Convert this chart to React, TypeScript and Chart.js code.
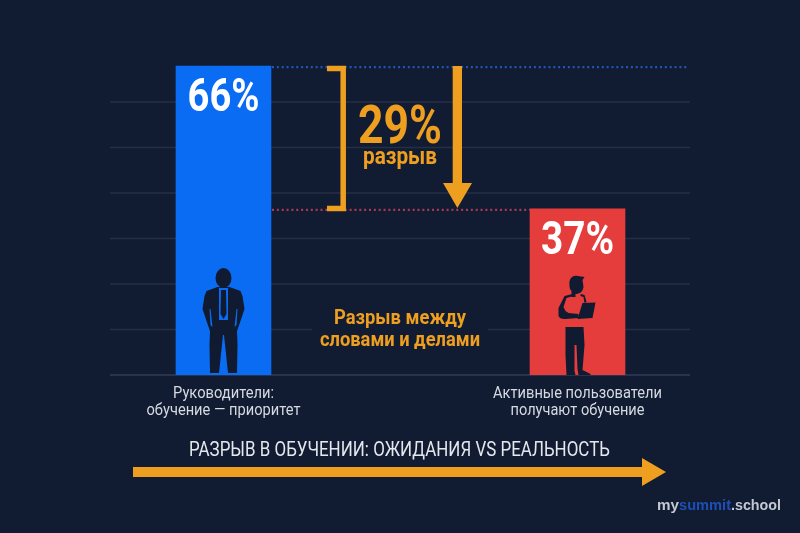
import React, { useEffect, useRef } from "react";
import { Chart, registerables } from "chart.js";

Chart.register(...registerables);

const categories = [
  ["Руководители:", "обучение — приоритет"],
  ["Активные пользователи", "получают обучение"],
];
// Bar heights as read against the gridlines of the picture (one gridline = 10 units).
// The picture's bars are not exactly to scale with their printed labels.
const barHeights = [67.9, 36.5];
const barLabels = ["66%", "37%"];
const barColors = ["#0a6cf2", "#e53c3c"];
const gridTicks = [0, 10, 20, 30, 40, 50, 60];
const gapLabel = "29%";
const gapWord = "разрыв";
const noteLines = ["Разрыв между", "словами и делами"];
const footerTitle = "РАЗРЫВ В ОБУЧЕНИИ: ОЖИДАНИЯ VS РЕАЛЬНОСТЬ";
const logoParts = ["my", "summit", ".school"];

const BG = "#111c32";
const INK = "#101a30";
const AMBER = "#ee9f20";
const FONT = "Roboto, sans-serif";

function fitText(
  ctx: CanvasRenderingContext2D,
  text: string,
  cx: number,
  cy: number,
  font: string,
  width: number,
  color: string
) {
  ctx.save();
  ctx.font = font;
  ctx.fillStyle = color;
  ctx.textAlign = "center";
  ctx.textBaseline = "middle";
  const w = ctx.measureText(text).width;
  ctx.translate(cx, cy);
  ctx.scale(width / w, 1);
  ctx.fillText(text, 0, 0);
  ctx.restore();
}

function drawManager(ctx: CanvasRenderingContext2D, cx: number, base: number, bar: string) {
  ctx.save();
  ctx.translate(cx, base);
  ctx.fillStyle = INK;
  ctx.beginPath();
  ctx.ellipse(0, -97, 8, 10, 0, 0, Math.PI * 2);
  ctx.fill();
  ctx.fill(
    new Path2D(
      "M-6,-88 L6,-88 L17,-84 L19,-79 L21,-66 L17,-54 L13.5,-44 L14,-30 L13.5,-2 L4.5,-2 L0.5,-40 L-0.5,-40 L-4.5,-2 L-13.5,-2 L-14,-30 L-13.5,-44 L-17,-54 L-21,-66 L-19,-79 L-17,-84 Z"
    )
  );
  // shirt and arm gaps in the bar colour
  ctx.fillStyle = bar;
  ctx.fill(new Path2D("M-4.5,-87 L4.5,-87 L4.5,-55 L-4.5,-55 Z"));
  ctx.fill(new Path2D("M-14,-66 L-13,-66 L-11,-48 L-13,-50 Z"));
  ctx.fill(new Path2D("M14,-66 L13,-66 L11,-48 L13,-50 Z"));
  ctx.fillStyle = INK;
  ctx.fill(new Path2D("M-2.5,-85 L2.5,-85 L3,-61 L0,-56 L-3,-61 Z"));
  ctx.restore();
}

function drawUser(ctx: CanvasRenderingContext2D, cx: number, base: number, bar: string) {
  ctx.save();
  ctx.translate(cx, base);
  ctx.fillStyle = INK;
  // head and hair
  ctx.fill(
    new Path2D(
      "M-8,-90 C-9,-97 -4,-100 0,-99 L7,-98 L5,-95 L6,-88 C5,-83 2,-81 -2,-81 L-2,-78 L-6,-78 L-6,-84 C-8,-86 -8,-88 -8,-90 Z"
    )
  );
  // shoulder and arm outline around the shirt
  ctx.fill(
    new Path2D(
      "M-5,-81 L-13,-79 L-19,-67 L-19,-60 C-19,-57 -16,-56 -12,-56 L1,-57 L1,-61 L-9,-62 L-12,-64 L-14,-68 L-11,-77 L-4,-79 Z"
    )
  );
  ctx.fill(new Path2D("M3,-81 L7,-80 L9,-73 L7,-72 L6,-78 L3,-79 Z"));
  // tablet
  ctx.fill(new Path2D("M5,-72 L18,-72.5 L15,-57 L0,-56 Z"));
  // legs
  ctx.fill(
    new Path2D(
      "M-12,-48 L6,-48 L7,-30 L5,-5 L13,-1 L13,0 L1,0 L0,-6 L-1,-30 L-3,-30 L-3,-4 L-2,0 L-11,0 L-12,-20 Z"
    )
  );
  ctx.restore();
}

const overlay = {
  id: "overlay",
  beforeDatasetsDraw(chart: any) {
    const { ctx, scales } = chart;
    ctx.save();
    ctx.lineWidth = 1.3;
    gridTicks.forEach((t, i) => {
      const y = scales.y.getPixelForValue(t);
      ctx.strokeStyle = i === 0 ? "#303d59" : "#252f46";
      ctx.beginPath();
      ctx.moveTo(110, y);
      ctx.lineTo(690, y);
      ctx.stroke();
    });
    ctx.restore();
  },
  afterDatasetsDraw(chart: any) {
    const { ctx, scales } = chart;
    const meta = chart.getDatasetMeta(0).data;
    const x0 = meta[0].x;
    const x1 = meta[1].x;
    const base = scales.y.getPixelForValue(0);
    const top = scales.y.getPixelForValue(barHeights[0]);
    const low = scales.y.getPixelForValue(barHeights[1]);
    const right0 = x0 + meta[0].width / 2;
    const left1 = x1 - meta[1].width / 2;

    ctx.save();
    ctx.lineWidth = 2.2;
    ctx.setLineDash([2, 2.85]);
    ctx.strokeStyle = "#1f57b4";
    ctx.beginPath();
    ctx.moveTo(right0 + 1, top + 1);
    ctx.lineTo(688, top + 1);
    ctx.stroke();
    ctx.strokeStyle = "#a93a52";
    ctx.beginPath();
    ctx.moveTo(right0 + 1, low + 1);
    ctx.lineTo(left1, low + 1);
    ctx.stroke();
    ctx.setLineDash([]);

    // bracket
    ctx.strokeStyle = AMBER;
    ctx.lineWidth = 5.5;
    ctx.lineJoin = "miter";
    ctx.beginPath();
    ctx.moveTo(327, top + 2.5);
    ctx.lineTo(343.2, top + 2.5);
    ctx.lineTo(343.2, low - 0.5);
    ctx.lineTo(327, low - 0.5);
    ctx.stroke();

    // down arrow
    ctx.fillStyle = AMBER;
    ctx.beginPath();
    ctx.moveTo(452.7, top);
    ctx.lineTo(462, top);
    ctx.lineTo(462, low - 26);
    ctx.lineTo(472, low - 26);
    ctx.lineTo(457.4, low - 1);
    ctx.lineTo(443, low - 26);
    ctx.lineTo(452.7, low - 26);
    ctx.closePath();
    ctx.fill();

    // long arrow
    ctx.beginPath();
    ctx.moveTo(133, 467);
    ctx.lineTo(642, 467);
    ctx.lineTo(642, 458);
    ctx.lineTo(666, 472);
    ctx.lineTo(642, 486);
    ctx.lineTo(642, 477);
    ctx.lineTo(133, 477);
    ctx.closePath();
    ctx.fill();

    // gap in the gridline behind the note
    ctx.fillStyle = BG;
    ctx.fillRect(312, 322, 176, 16);

    drawManager(ctx, x0, base, barColors[0]);
    drawUser(ctx, x1, base, barColors[1]);

    const cats = chart.data.labels;
    const lw = [[101, 154], [169, 134]];
    cats.forEach((lines: string[], i: number) => {
      const cx = meta[i].x;
      lines.forEach((l, j) => {
        fitText(ctx, l, cx, 394 + j * 17, `400 17px ${FONT}`, lw[i][j], "#d5d9e0");
      });
    });

    fitText(ctx, barLabels[0], x0, top + 33, `700 47px ${FONT}`, 72, "#ffffff");
    fitText(ctx, barLabels[1], x1, low + 33, `700 47px ${FONT}`, 73, "#ffffff");
    fitText(ctx, gapLabel, 400, 130, `700 53px ${FONT}`, 84, AMBER);
    fitText(ctx, gapWord, 400, 158, `700 23px ${FONT}`, 74, AMBER);
    fitText(ctx, noteLines[0], 400, 319, `700 21px ${FONT}`, 132, AMBER);
    fitText(ctx, noteLines[1], 400, 341, `700 21px ${FONT}`, 160, AMBER);
    fitText(ctx, footerTitle, 399.5, 451, `400 21px ${FONT}`, 421, "#e4e7ec");

    fitText(ctx, logoParts[0], 668, 506, `700 15px "Liberation Sans", sans-serif`, 22, "#c3c8d1");
    fitText(ctx, logoParts[1], 705, 506, `700 15px "Liberation Sans", sans-serif`, 52, "#1e4fb8");
    fitText(ctx, logoParts[2], 756, 506, `700 15px "Liberation Sans", sans-serif`, 50, "#c3c8d1");
    ctx.restore();
  },
};

export default function App() {
  const ref = useRef<HTMLCanvasElement>(null);
  useEffect(() => {
    const chart = new Chart(ref.current as HTMLCanvasElement, {
      type: "bar",
      data: {
        labels: categories as any,
        datasets: [
          {
            data: barHeights,
            backgroundColor: barColors,
            barThickness: 95,
            borderWidth: 0,
          },
        ],
      },
      options: {
        animation: false,
        responsive: false,
        events: [],
        layout: { padding: { left: 46.5, right: 45.5, top: 56.5, bottom: 0 } },
        plugins: { legend: { display: false }, tooltip: { enabled: false }, title: { display: false } },
        scales: {
          x: {
            grid: { display: false },
            border: { display: false },
            ticks: { display: false },
            afterFit: (s: any) => {
              s.height = 158;
            },
          },
          y: {
            min: 0,
            max: 70,
            grid: { display: false },
            border: { display: false },
            ticks: { display: false, stepSize: 10 },
            afterFit: (s: any) => {
              s.width = 0;
            },
          },
        },
      },
      plugins: [overlay],
    } as any);
    return () => chart.destroy();
  }, []);
  return (
    <div style={{ position: "absolute", left: 0, top: 0, width: 800, height: 533, background: BG }}>
      <canvas ref={ref} width={800} height={533} style={{ display: "block" }} />
    </div>
  );
}
